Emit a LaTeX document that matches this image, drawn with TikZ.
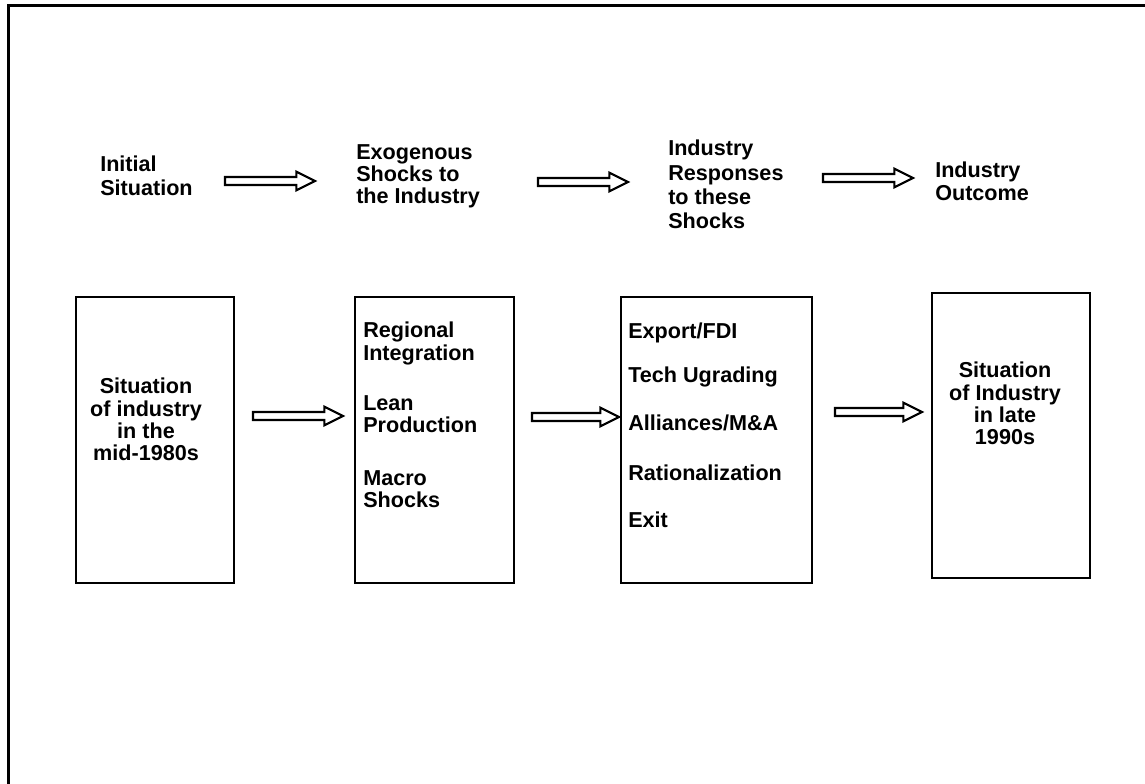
\documentclass[tikz,border=0pt]{standalone}
\usepackage{fontspec}
\setmainfont{Liberation Sans}
\usetikzlibrary{calc,positioning}

\tikzset{
	steptext/.style={anchor=north west, inner sep=0pt, align=left,
		font=\bfseries\fontsize{16.2}{16.6}\selectfont},
	boxtext/.style={steptext, anchor=north, align=center},
	stagebox/.style={draw, line width=1.5pt, inner sep=0pt, outer sep=0pt, minimum height=214.5pt},
	blockarrow/.style={draw, line width=1.6pt, line join=miter, fill=white,
		to path={let \p1=(\tikztostart), \p2=(\tikztotarget) in
			(\x1,\y1+3pt) -- (\x2-14pt,\y1+3pt) -- (\x2-14pt,\y1+7pt) -- (\x2,\y1)
			-- (\x2-14pt,\y1-7pt) -- (\x2-14pt,\y1-3pt) -- (\x1,\y1-3pt) -- cycle}}
}

\begin{document}
\begin{tikzpicture}[x=0.75pt, y=-0.75pt]
	\useasboundingbox (0,0) rectangle (1145,783);
	\clip (0,0) rectangle (1145,783);
	\draw [line width=2.25pt] (8.5,5.5) rectangle (1170,810);

	% stages across the top
	\node [steptext]	(Initial)	at (100,156)	{Initial\\[1pt]Situation};
	\node [steptext]	(Shocks)	at (356,144)	{Exogenous\\Shocks to\\the Industry};
	\node [steptext, font=\bfseries\fontsize{16.2}{18.2}\selectfont]
		(Responses)	at (668,140)	{Industry\\Responses\\to these\\Shocks};
	\node [steptext]	(Outcome)	at (935,162)	{Industry\\Outcome};

	\coordinate (a1s) at (225,181);	\coordinate (a1e) at (315,181);
	\coordinate (a2s) at (538,182);	\coordinate (a2e) at (628,182);
	\coordinate (a3s) at (823,178);	\coordinate (a3e) at (913,178);
	\draw [blockarrow] (a1s) to (a1e);
	\draw [blockarrow] (a2s) to (a2e);
	\draw [blockarrow] (a3s) to (a3e);

	% boxes
	\node [stagebox, minimum width=118.5pt]		(Mid80s)	at (155,440)	{};
	\node [stagebox, minimum width=119.25pt]	(Exogenous)	at (434.5,440)	{};
	\node [stagebox, minimum width=143.25pt]	(Reaction)	at (716.5,440)	{};
	\node [stagebox, minimum width=118.5pt, minimum height=213.75pt]	(Late90s)	at (1011,435.5)	{};

	\node [boxtext]	(Mid80sText)	at (146,378)	{Situation\\of industry\\in the\\mid-1980s};
	\node [boxtext]	(Late90sText)	at (1005,362)	{Situation\\of Industry\\in late\\1990s};

	\node [steptext]	(Regional)	at (363,322)	{Regional\\Integration};
	\node [steptext]	(Lean)		at (363,395)	{Lean\\Production};
	\node [steptext]	(Macro)		at (363,470)	{Macro\\Shocks};

	\node [steptext]	(Export)	at (628,323)	{Export/FDI};
	\node [steptext]	(Tech)		at (628,367)	{Tech Ugrading};
	\node [steptext]	(Alliances)	at (628,415)	{Alliances/M\&A};
	\node [steptext]	(Rational)	at (628,465)	{Rationalization};
	\node [steptext]	(Exit)		at (628,512)	{Exit};

	\coordinate (b1s) at (253,416);	\coordinate (b1e) at (343,416);
	\coordinate (b2s) at (532,417);	\coordinate (b2e) at (619,417);
	\coordinate (b3s) at (835,412);	\coordinate (b3e) at (922,412);
	\draw [blockarrow] (b1s) to (b1e);
	\draw [blockarrow] (b2s) to (b2e);
	\draw [blockarrow] (b3s) to (b3e);
\end{tikzpicture}
\end{document}
